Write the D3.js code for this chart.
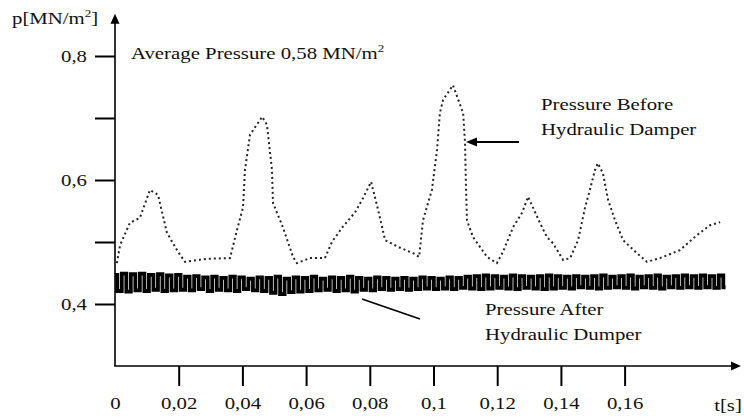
<!DOCTYPE html>
<html><head><meta charset="utf-8">
<script src="https://cdn.jsdelivr.net/npm/d3@7"></script>
<style>
body{margin:0;background:#fff}
svg{display:block}
text{font-family:"Liberation Serif","Times New Roman",serif;fill:#111}
</style>
</head><body>
<svg id="c" width="744" height="419"></svg>
<script>
// Pressure before hydraulic damper (dotted)
const beforeT = [0.0006,0.0016,0.0047,0.0078,0.011,0.0135,0.0163,0.0198,0.022,0.0289,0.0361,0.0383,0.0402,0.0408,0.0424,0.0462,0.0477,0.0493,0.0496,0.0527,0.0559,0.0571,0.0612,0.0659,0.0681,0.0713,0.0754,0.0779,0.0804,0.0826,0.0848,0.0889,0.0936,0.0955,0.0967,0.0995,0.1011,0.102,0.103,0.1061,0.1093,0.1099,0.1102,0.1105,0.1124,0.1168,0.1199,0.1218,0.125,0.1278,0.1297,0.1334,0.1356,0.1375,0.1407,0.1429,0.1454,0.1476,0.1491,0.1507,0.1516,0.1532,0.1548,0.157,0.1595,0.1639,0.167,0.1711,0.1774,0.1827,0.1868,0.19];
const beforeP = [0.466,0.495,0.531,0.539,0.584,0.576,0.515,0.484,0.468,0.473,0.474,0.519,0.556,0.616,0.673,0.702,0.689,0.616,0.563,0.524,0.476,0.466,0.474,0.474,0.500,0.523,0.548,0.571,0.597,0.552,0.503,0.492,0.482,0.476,0.535,0.584,0.648,0.708,0.729,0.753,0.708,0.660,0.589,0.535,0.508,0.476,0.466,0.484,0.524,0.547,0.573,0.531,0.508,0.498,0.471,0.474,0.503,0.556,0.584,0.616,0.627,0.611,0.568,0.535,0.503,0.482,0.468,0.474,0.487,0.511,0.527,0.532];
// Pressure after hydraulic damper (thick), sampled every afterDt seconds
const afterDt = 0.00142;
const afterP = [
 0.447,0.421,0.449,0.420,0.448,0.422,0.449,0.421,0.447,0.423,0.448,0.421,0.446,0.422,0.447,0.423,
 0.444,0.422,0.445,0.424,0.443,0.421,0.444,0.423,0.442,0.422,0.444,0.421,0.443,0.424,0.441,0.422,
 0.443,0.421,0.442,0.418,0.444,0.416,0.441,0.419,0.443,0.420,0.442,0.421,0.444,0.422,0.441,0.423,
 0.443,0.421,0.442,0.422,0.444,0.420,0.442,0.423,0.441,0.422,0.443,0.424,0.442,0.423,0.441,0.424,
 0.442,0.423,0.441,0.424,0.443,0.425,0.442,0.424,0.441,0.425,0.443,0.424,0.442,0.426,0.444,0.425,
 0.445,0.424,0.446,0.425,0.445,0.426,0.444,0.425,0.446,0.424,0.445,0.426,0.444,0.425,0.445,0.424,
 0.446,0.425,0.445,0.426,0.444,0.425,0.445,0.427,0.444,0.426,0.445,0.425,0.446,0.426,0.444,0.427,
 0.445,0.426,0.446,0.425,0.444,0.427,0.445,0.426,0.446,0.425,0.444,0.427,0.445,0.426,0.446,0.427,
 0.445,0.426,0.446,0.427,0.445,0.426,0.446,0.427];
const xTicks = [0,0.02,0.04,0.06,0.08,0.1,0.12,0.14,0.16];
const yTicks = [0.4,0.5,0.6,0.7,0.8];
const yLabelled = [0.4,0.6,0.8];

const SX = 1.3, FS = 16;
const svg = d3.select("#c");
const x = d3.scaleLinear().domain([0,0.16]).range([115,624.6]);
const y = d3.scaleLinear().domain([0.4,0.8]).range([304,56]);
const yBase = y(0.3), yTop = y(0.868);
const fmt = v => String(+v.toFixed(2)).replace(".", ",");

function label(px, py, anchor){
  return svg.append("g").attr("transform",`translate(${px},${py}) scale(${SX},1)`)
    .append("text").attr("text-anchor",anchor||"start").attr("font-size",FS);
}

// axes lines
svg.append("line").attr("x1",x(0)).attr("x2",x(0)).attr("y1",yBase).attr("y2",yTop+8)
  .attr("stroke","#000").attr("stroke-width",1.6);
svg.append("path").attr("d",`M${x(0)},${yTop} l-4.5,10 l9,0 z`).attr("fill","#000");
svg.append("line").attr("x1",x(0)-0.8).attr("x2",732).attr("y1",yBase).attr("y2",yBase)
  .attr("stroke","#000").attr("stroke-width",1.6);
svg.append("path").attr("d",`M741,${yBase} l-10,-4.5 l0,9 z`).attr("fill","#000");

// y axis
const ya = svg.append("g").attr("transform",`translate(${x(0)},0)`)
  .call(d3.axisLeft(y).tickValues(yTicks).tickSize(20).tickPadding(8)
    .tickFormat(d => yLabelled.some(v=>Math.abs(v-d)<1e-9) ? fmt(d) : ""));
ya.select(".domain").remove();
ya.selectAll(".tick line").attr("stroke","#000").attr("stroke-width",2);
ya.selectAll(".tick text").attr("font-family",null).attr("font-size",FS).attr("fill","#111")
  .attr("x",-28/SX).attr("transform",`scale(${SX},1)`);

// x axis
const xa = svg.append("g").attr("transform",`translate(0,${yBase})`)
  .call(d3.axisBottom(x).tickValues(xTicks).tickSize(20).tickPadding(12).tickFormat(fmt));
xa.select(".domain").remove();
xa.selectAll(".tick line").attr("stroke","#000").attr("stroke-width",2)
  .attr("opacity",d=>d===0?0:1);
xa.selectAll(".tick text").attr("font-family",null).attr("font-size",FS).attr("fill","#111")
  .attr("transform",`scale(${SX},1)`);
label(728,411,"middle").text("t[s]");

// axis title
const pt = label(12,24);
pt.append("tspan").text("p[MN/m");
pt.append("tspan").attr("font-size",10).attr("dy",-7).text("2");
pt.append("tspan").attr("dy",7).text("]");

// annotation
const av = label(131,59);
av.append("tspan").text("Average Pressure 0,58 MN/m");
av.append("tspan").attr("font-size",10).attr("dy",-7).text("2");

// series
const line = d3.line().x(d=>x(d[0])).y(d=>y(d[1]));
svg.append("path").datum(afterP.map((v,i)=>[i*afterDt,v]))
  .attr("d",line.curve(d3.curveStep)).attr("fill","none").attr("stroke","#000").attr("stroke-width",3.8);
svg.append("path").datum(beforeT.map((t,i)=>[t,beforeP[i]]))
  .attr("d",line.curve(d3.curveLinear)).attr("fill","none").attr("stroke","#222").attr("stroke-width",2)
  .attr("stroke-dasharray","2,3");

// legends with arrows
label(541,110).text("Pressure Before");
label(541,135).text("Hydraulic Damper");
svg.append("line").attr("x1",519).attr("x2",476).attr("y1",142).attr("y2",142)
  .attr("stroke","#000").attr("stroke-width",2);
svg.append("path").attr("d","M466,142 l11,-4.5 l0,9 z").attr("fill","#000");

label(485,315).text("Pressure After");
label(485,340).text("Hydraulic Dumper");
svg.append("line").attr("x1",420).attr("x2",362).attr("y1",319).attr("y2",299)
  .attr("stroke","#000").attr("stroke-width",1.6);
</script>
</body></html>
